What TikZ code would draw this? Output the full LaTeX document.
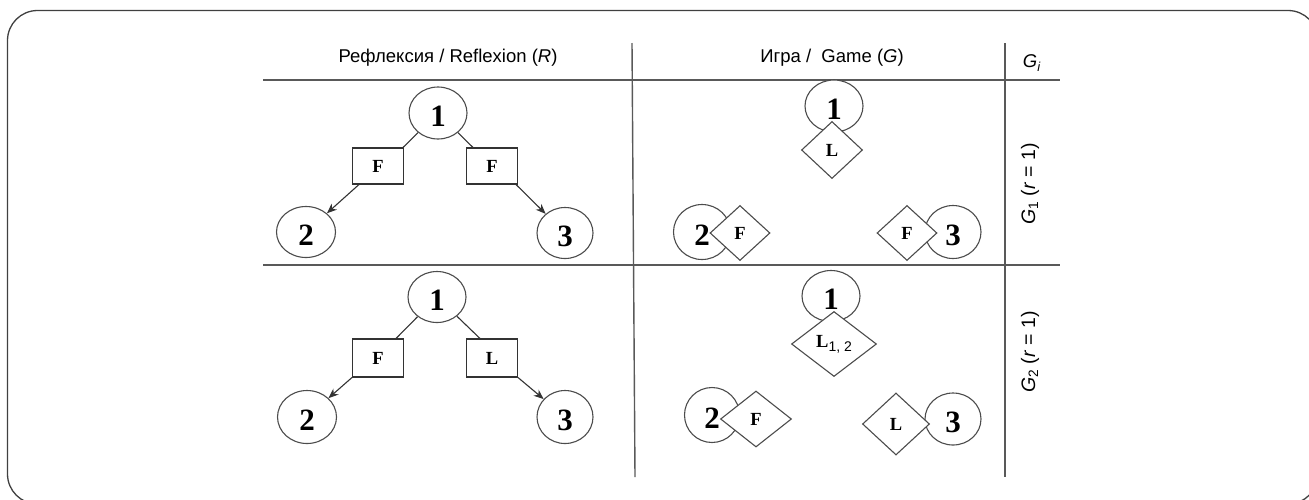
\documentclass[tikz,border=0pt]{standalone}
\usepackage{fontspec}
\setmainfont{Liberation Sans}
\newfontfamily\serifnum{Liberation Serif}
\usetikzlibrary{shapes.geometric,arrows.meta}
\begin{document}
\begin{tikzpicture}[x=1pt,y=-1pt,
  frame/.style={draw=black!75, line width=1.3pt, rounded corners=30pt},
  rule/.style={draw=black!65, line width=1.4pt},
  circ/.style={ellipse, draw=black!70, line width=1.1pt, minimum width=58pt, minimum height=52pt, inner sep=0pt, fill=white,
    font=\serifnum\bfseries\fontsize{31}{32}\selectfont, text height=27pt, text depth=0pt},
  lab/.style={font=\serifnum\bfseries\fontsize{18.5}{19}\selectfont},
  fbox/.style={rectangle, draw=black!80, line width=1.1pt, minimum width=51pt, minimum height=36pt, inner sep=0pt, fill=white, lab},
  dia/.style={diamond, draw=black!70, line width=1.1pt, inner sep=0pt, fill=white, lab},
  num/.style={font=\serifnum\bfseries\fontsize{31}{32}\selectfont, inner sep=0pt, text height=27pt, text depth=0pt},
  conn/.style={draw=black!80, line width=1.1pt},
  arr/.style={conn, -{Stealth[length=10pt,width=8pt]}},
  head/.style={font=\fontsize{18.5}{20}\selectfont, inner sep=0pt},
  side/.style={font=\fontsize{19.5}{20}\selectfont, inner sep=0pt, rotate=90},
]
\useasboundingbox (0,0) rectangle (1309,499);
\draw[frame] (7.5,10.5) rectangle (1318,504);

% table rules
\draw[rule] (263,80) -- (1060,80);
\draw[rule] (263,265) -- (1060,265);
\draw[rule] (632,43) -- (635,477);
\draw[rule] (1005,43) -- (1005,477);

% headers
\node[head] (hR) at (448,58) {Рефлексия / Reflexion (\textit{R})};
\node[head] (hG) at (832,58) {Игра / \ Game (\textit{G})};
\node[head] (hGi) at (1032,63) {\textit{G}\textsubscript{\textit{i}}};
\node[side] (hG1) at (1030,184) {\textit{G}\textsubscript{1} (\textit{r} = 1)};
\node[side] (hG2) at (1030,352) {\textit{G}\textsubscript{2} (\textit{r} = 1)};

% Reflexion, row 1
\node[circ] (ra1) at (438,113) {1};
\node[fbox] (rf1) at (378,166) {F};
\node[fbox] (rf2) at (492,166) {F};
\node[circ, minimum width=59pt, minimum height=51pt] (ra2) at (306,232) {2};
\node[circ, minimum width=56pt, minimum height=51pt] (ra3) at (565,233) {3};
\draw[conn] (ra1) -- ([xshift=-1pt]rf1.north east);
\draw[conn] (ra1) -- ([xshift=7pt]rf2.north west);
\draw[arr] ([xshift=7pt]rf1.south west) -- (ra2);
\draw[arr] ([xshift=-2pt]rf2.south east) -- (ra3);

% Reflexion, row 2
\node[circ, minimum height=51pt] (rb1) at (437,297) {1};
\node[fbox, minimum height=38pt] (rg1) at (378,358) {F};
\node[fbox, minimum height=38pt] (rg2) at (492,358) {L};
\node[circ, minimum width=59pt, minimum height=53pt] (rb2) at (307,417) {2};
\node[circ, minimum width=56pt, minimum height=53pt] (rb3) at (565,417) {3};
\draw[conn] (rb1) -- ([xshift=-8pt]rg1.north east);
\draw[conn] (rb1) -- ([xshift=14pt]rg2.north west);
\draw[arr] (rg1.south west) -- (rb2);
\draw[arr] (rg2.south east) -- (rb3);

% Game, row 1
\node[circ] (ga1) at (834,106) {};
\node[circ, minimum width=57pt, minimum height=55pt] (ga2) at (702,232) {};
\node[circ, minimum width=56pt, minimum height=53pt] (ga3) at (953,232) {};
\node[dia, minimum width=61pt, minimum height=57pt] (gd1) at (832,150) {L};
\node[dia, minimum width=60pt, minimum height=55pt] (gd2) at (740,233) {F};
\node[dia, minimum width=60pt, minimum height=55pt] (gd3) at (907,233) {F};
\node[num] (gn1) at (ga1) {1};
\node[num] (gn2) at (ga2) {2};
\node[num] (gn3) at (ga3) {3};

% Game, row 2
\node[circ, minimum height=51pt] (gb1) at (831,296) {};
\node[circ, minimum width=55pt, minimum height=55pt] (gb2) at (712,415) {};
\node[circ, minimum width=56pt, minimum height=52pt] (gb3) at (953,419) {};
\node[dia, minimum width=85pt, minimum height=65pt] (ge1) at (834,344) {L\raisebox{-4pt}{\normalfont\fontsize{14}{14}\selectfont 1, 2}};
\node[dia, minimum width=71pt, minimum height=56pt] (ge2) at (756,419) {F};
\node[dia, minimum width=67pt, minimum height=62pt] (ge3) at (896,424) {L};
\node[num] (gm1) at (gb1) {1};
\node[num] (gm2) at (gb2) {2};
\node[num] (gm3) at (gb3) {3};
\end{tikzpicture}
\end{document}
